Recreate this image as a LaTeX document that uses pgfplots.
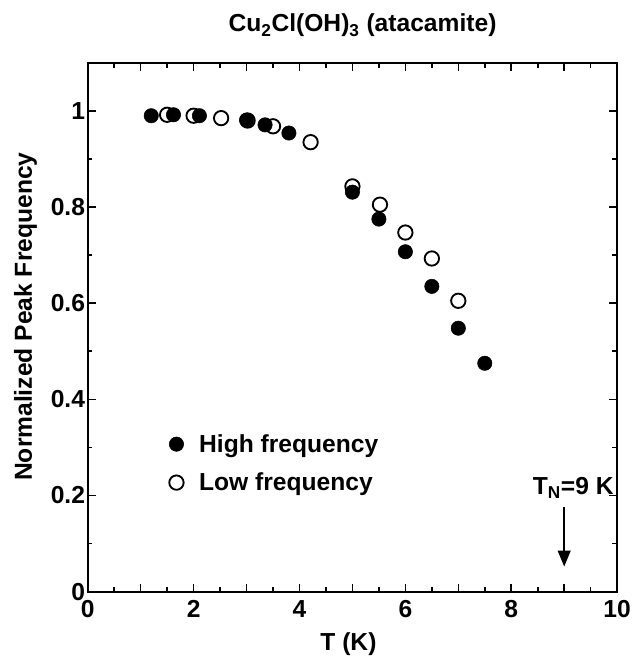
\documentclass[border=0pt]{standalone}
\usepackage{pgfplots}
\pgfplotsset{compat=1.18}
\usetikzlibrary{arrows.meta}
\usepackage{fontspec}
\setmainfont{Liberation Sans}
\newcommand{\ff}{\fontsize{18.5}{22}\selectfont\bfseries}
\pgfplotsset{myleg/.style={legend image code/.code={\draw[##1] plot coordinates {(0cm,0cm)}; \path[draw=none,fill=none] (0cm,0cm) (0.53cm,0cm);}}}
\begin{document}
\begin{tikzpicture}
\begin{axis}[
  width=398pt, height=397.5pt, scale only axis,
  xmin=0, xmax=10, ymin=0, ymax=1.1,
  xtick={0,1,...,10}, xticklabels={0,,2,,4,,6,,8,,10},
  minor x tick num=1,
  ytick={0,0.2,0.4,0.6,0.8,1}, minor y tick num=1,
  tick align=inside,
  major tick length=6pt, minor tick length=3.5pt,
  axis line style={line width=1.5pt},
  every tick/.style={line width=1.2pt, black},
  /pgf/number format/assume math mode=true,
  tick label style={font=\ff},
  xticklabel style={yshift=-3pt},
  yticklabel style={xshift=1.5pt},
  xlabel={T (K)},
  ylabel={Normalized Peak Frequency},
  xlabel style={font=\ff, at={(rel axis cs:0.4925,-0.1113)}, anchor=base},
  ylabel style={font=\ff, at={(rel axis cs:-0.1055,0.52)}, anchor=base, rotate=0},
  legend style={at={(axis cs:1.46,0.339)}, anchor=north west, draw=none, fill=none,
    font=\ff, row sep=10pt},
  legend cell align=left,
  clip=false,
]
\path (rel axis cs:-0.1657,-0.1264) rectangle (rel axis cs:1.0282,1.1189);
\addplot[only marks, mark=*, mark size=5.4pt, mark options={fill=black, draw=black}, myleg]
coordinates {
(1.2,0.990) (1.62,0.992) (2.11,0.990) (3.0,0.981) (3.35,0.971) (3.8,0.954)
(5.0,0.831) (5.5,0.775) (6.0,0.707) (6.5,0.635) (7.0,0.548) (7.5,0.475)
};
\addlegendentry{High frequency}
\addplot[only marks, mark=o, mark size=5.4pt, mark options={draw=black, fill=white, line width=1.4pt}, myleg]
coordinates {
(1.5,0.992) (2.0,0.990) (2.52,0.985) (3.02,0.980) (3.5,0.968) (4.21,0.935)
(5.0,0.843) (5.52,0.805) (6.0,0.747) (6.5,0.693) (7.0,0.605)
};
\addlegendentry{Low frequency}
\draw[line width=1.5pt, -{Triangle[length=12pt, width=9.5pt]}] (axis cs:9,0.175) -- (axis cs:9,0.052);
\node[font=\ff, anchor=base] at (axis cs:9.17,0.202) {T\textsubscript{N}=9 K};
\node[font=\ff, anchor=base] at (rel axis cs:0.519,1.0585) {Cu\textsubscript{2}Cl(OH)\textsubscript{3} (atacamite)};
\end{axis}
\end{tikzpicture}
\end{document}
